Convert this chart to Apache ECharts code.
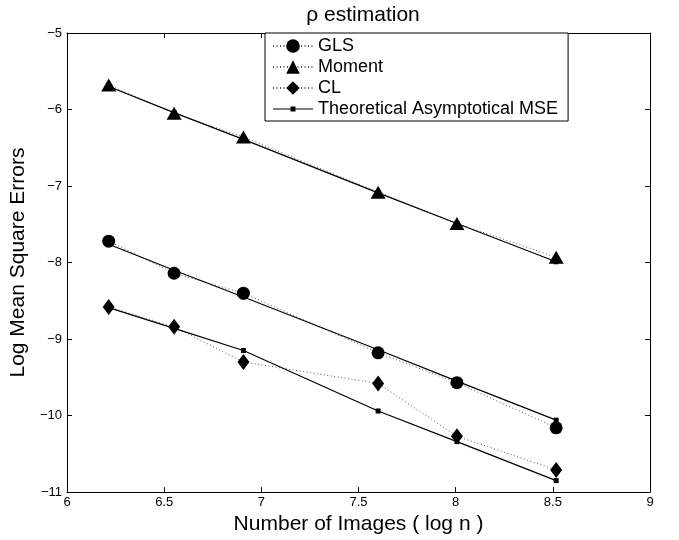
<!DOCTYPE html>
<html>
<head>
<meta charset="utf-8">
<script src="https://cdn.jsdelivr.net/npm/echarts@6/dist/echarts.min.js"></script>
<style>
  html, body { margin: 0; padding: 0; background: #fff; }
  #chart { width: 679px; height: 540px; }
</style>
</head>
<body>
<div id="chart"></div>
<script>
// log n for n = 500, 700, 1000, 2000, 3000, 5000
const xLogN = [6.2146, 6.5511, 6.9078, 7.6009, 8.0064, 8.5172];

// observed log MSE
const glsMse = [-7.72, -8.14, -8.40, -9.18, -9.57, -10.16];
const momentMse = [-5.68, -6.05, -6.36, -7.08, -7.49, -7.93];
const clMse = [-8.58, -8.84, -9.30, -9.58, -10.27, -10.71];

// theoretical asymptotical MSE
const glsTheory = [-7.76, -8.10, -8.45, -9.14, -9.55, -10.06];
const momentTheory = [-5.70, -6.04, -6.39, -7.09, -7.49, -7.99];
const clTheory = [-8.59, -8.86, -9.15, -9.94, -10.34, -10.85];

const xTicks = { min: 6, max: 9, interval: 0.5 };
const yTicks = { min: -11, max: -5, interval: 1 };

const FONT = "'Liberation Sans', Arial, Helvetica, sans-serif";
const THEORY_NAME = 'Theoretical Asymptotical MSE';

function pairs(ys) {
    return xLogN.map((x, i) => [x, ys[i]]);
}

function observed(name, data, symbol, size) {
    return {
        name: name,
        type: 'line',
        data: pairs(data),
        symbol: symbol,
        symbolSize: size,
        showSymbol: true,
        animation: false,
        itemStyle: { color: '#000' },
        lineStyle: { color: '#555', width: 1, type: [1, 2.5] },
        z: 2
    };
}

function theory(data) {
    return {
        name: THEORY_NAME,
        type: 'line',
        data: pairs(data),
        symbol: 'rect',
        symbolSize: 5,
        animation: false,
        itemStyle: { color: '#000' },
        lineStyle: { color: '#000', width: 1.2, type: 'solid' },
        z: 3
    };
}

const chart = echarts.init(document.getElementById('chart'));

const minusFmt = v => String(v).replace('-', '\u2212');

chart.setOption({
    backgroundColor: '#fff',
    animation: false,
    title: {
        text: '\u03c1 estimation',
        left: 358,
        top: 0,
        textAlign: 'center',
        textStyle: { fontFamily: FONT, fontSize: 21, fontWeight: 'normal', color: '#000' }
    },
    legend: {
        orient: 'vertical',
        left: 265,
        top: 33,
        padding: [4, 10, 3, 7],
        itemWidth: 40,
        itemHeight: 17,
        itemGap: 3,
        backgroundColor: '#fff',
        borderColor: '#000',
        borderWidth: 1,
        borderRadius: 0,
        textStyle: { fontFamily: FONT, fontSize: 18, color: '#000' },
        data: [
            { name: 'GLS' },
            { name: 'Moment' },
            { name: 'CL' },
            { name: THEORY_NAME, icon: 'path://M0,8h40v1.2h-40z M17.5,6.1h5v5h-5z' }
        ]
    },
    grid: { left: 67, right: 29, top: 33, bottom: 47, containLabel: false },
    xAxis: [{
        type: 'value',
        min: xTicks.min, max: xTicks.max, interval: xTicks.interval,
        name: 'Number of Images ( log n )',
        nameLocation: 'middle',
        nameGap: 20,
        nameTextStyle: { fontFamily: FONT, fontSize: 21, color: '#000' },
        axisLine: { lineStyle: { color: '#000', width: 1 } },
        axisTick: { inside: true, length: 5, lineStyle: { color: '#000' } },
        axisLabel: { fontFamily: FONT, fontSize: 13, color: '#000', margin: 4 },
        splitLine: { show: false }
    }, {
        type: 'value',
        position: 'top',
        min: xTicks.min, max: xTicks.max, interval: xTicks.interval,
        axisLine: { lineStyle: { color: '#000', width: 1 } },
        axisTick: { inside: true, length: 5, lineStyle: { color: '#000' } },
        axisLabel: { show: false },
        splitLine: { show: false }
    }],
    yAxis: [{
        type: 'value',
        min: yTicks.min, max: yTicks.max, interval: yTicks.interval,
        name: 'Log Mean Square Errors',
        nameLocation: 'middle',
        nameGap: 34,
        nameTextStyle: { fontFamily: FONT, fontSize: 21, color: '#000' },
        axisLine: { show: true, lineStyle: { color: '#000', width: 1 } },
        axisTick: { show: true, inside: true, length: 5, lineStyle: { color: '#000' } },
        axisLabel: { fontFamily: FONT, fontSize: 13, color: '#000', margin: 5, formatter: minusFmt },
        splitLine: { show: false }
    }, {
        type: 'value',
        position: 'right',
        min: yTicks.min, max: yTicks.max, interval: yTicks.interval,
        axisLine: { show: true, lineStyle: { color: '#000', width: 1 } },
        axisTick: { show: true, inside: true, length: 5, lineStyle: { color: '#000' } },
        axisLabel: { show: false },
        splitLine: { show: false }
    }],
    series: [
        observed('GLS', glsMse, 'circle', 13),
        observed('Moment', momentMse, 'triangle', [15, 13]),
        observed('CL', clMse, 'diamond', [12, 16]),
        theory(glsTheory),
        theory(momentTheory),
        theory(clTheory)
    ]
});
</script>
</body>
</html>
